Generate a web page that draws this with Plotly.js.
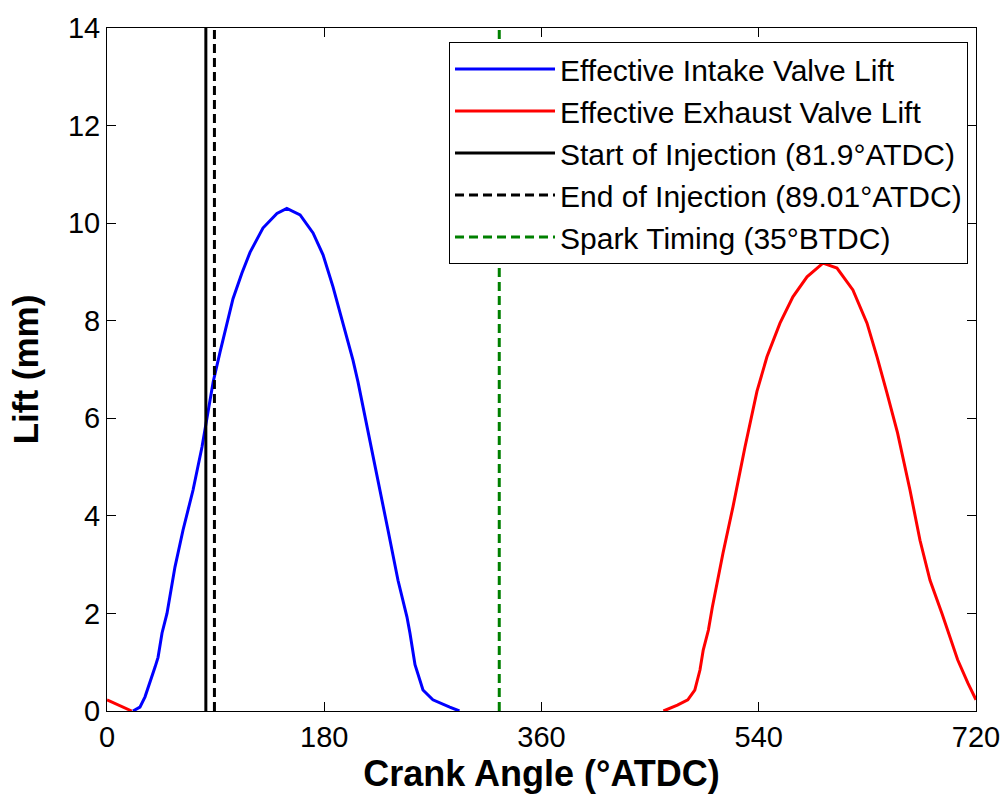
<!DOCTYPE html>
<html>
<head>
<meta charset="utf-8">
<script src="https://cdn.plot.ly/plotly-3.0.1.min.js"></script>
<style>html,body{margin:0;padding:0;background:#fff;}#chart{width:1005px;height:796px;}</style>
</head>
<body>
<div id="chart"></div>
<script>
// Effective intake valve lift (crank angle in deg ATDC, lift in mm)
const intakeAngle = [21.5, 27.3, 31.5, 35.6, 39.8, 42.3, 45.6, 49.7, 53, 56.3, 63, 71.3, 78.7, 88, 93.6, 99.4, 104.4, 111.8, 118.5, 129.2, 140.8, 149, 160, 170.7, 179, 187.2, 195.5, 203.8, 208, 217.9, 224.5, 232.8, 241.1, 245.2, 248.5, 251, 255.2, 261.8, 270, 284, 292];
const intakeLift  = [0, 0.08, 0.29, 0.57, 0.9, 1.1, 1.6, 2.0, 2.45, 2.95, 3.71, 4.53, 5.41, 6.75, 7.35, 7.95, 8.45, 8.98, 9.4, 9.9, 10.2, 10.3, 10.17, 9.8, 9.35, 8.7, 7.95, 7.19, 6.74, 5.55, 4.73, 3.71, 2.68, 2.27, 1.93, 1.6, 0.95, 0.43, 0.23, 0.08, 0];

// Effective exhaust valve lift (wraps around the cycle start)
const exhaustAngle = [0, 5, 10, 15, 20.5, null, 461, 472.6, 481.2, 487, 491.3, 494, 498.3, 501.5, 510.4, 518.6, 528.6, 538.5, 546.8, 557.6, 568.3, 580, 593.2, 604.8, 618, 629.7, 638, 643, 646.2, 655, 665.3, 673.6, 681.9, 691.8, 699, 704.8, 713.3, 720];
const exhaustLift  = [0.23, 0.17, 0.11, 0.05, 0, null, 0, 0.12, 0.23, 0.43, 0.84, 1.25, 1.66, 2.12, 3.24, 4.18, 5.41, 6.55, 7.26, 7.95, 8.49, 8.9, 9.18, 9.08, 8.63, 7.95, 7.26, 6.78, 6.52, 5.7, 4.53, 3.5, 2.68, 2.0, 1.45, 1.05, 0.57, 0.23];

// Event timings (deg ATDC)
const startOfInjection = 81.9;
const endOfInjection = 89.01;
const sparkTiming = 360 - 35;

const seriesNames = [
  'Effective Intake Valve Lift',
  'Effective Exhaust Valve Lift',
  'Start of Injection (81.9°ATDC)',
  'End of Injection (89.01°ATDC)',
  'Spark Timing (35°BTDC)'
];
const xTicks = [0, 180, 360, 540, 720];
const yTicks = [0, 2, 4, 6, 8, 10, 12, 14];
const yRange = [0, 14];

const FONT = 'Liberation Sans, Arial, Helvetica, sans-serif';

const traces = [
  {x: intakeAngle, y: intakeLift, mode: 'lines', name: seriesNames[0], line: {color: '#0000ff', width: 3}},
  {x: exhaustAngle, y: exhaustLift, mode: 'lines', name: seriesNames[1], connectgaps: false, line: {color: '#ff0000', width: 3}},
  {x: [startOfInjection, startOfInjection], y: yRange, mode: 'lines', name: seriesNames[2], line: {color: '#000000', width: 3}},
  {x: [endOfInjection, endOfInjection], y: yRange, mode: 'lines', name: seriesNames[3], line: {color: '#000000', width: 3, dash: '9px,5px'}},
  {x: [sparkTiming, sparkTiming], y: yRange, mode: 'lines', name: seriesNames[4], line: {color: '#008000', width: 3, dash: '9px,5px'}}
];

const axisCommon = {
  showgrid: false, zeroline: false, showline: true, linecolor: '#000', linewidth: 1,
  mirror: 'ticks', ticks: 'inside', ticklen: 9, tickwidth: 1, tickcolor: '#000',
  tickfont: {family: FONT, size: 29, color: '#000'}
};

const layout = {
  width: 1005, height: 796,
  margin: {l: 107, r: 29, t: 28, b: 85},
  paper_bgcolor: '#fff', plot_bgcolor: '#fff',
  font: {family: FONT, color: '#000'},
  showlegend: true,
  xaxis: Object.assign({}, axisCommon, {
    range: [0, 720], tickvals: xTicks, ticktext: xTicks.map(String),
    title: {text: 'Crank Angle (°ATDC)', font: {family: FONT, size: 36, weight: 'bold', color: '#000'}, standoff: 8}
  }),
  yaxis: Object.assign({}, axisCommon, {
    range: yRange, tickvals: yTicks, ticktext: yTicks.map(String),
    title: {text: 'Lift (mm)', font: {family: FONT, size: 35, weight: 'bold', color: '#000'}, standoff: 18}
  }),
  legend: {
    x: 0.9908, y: 0.9795, xanchor: 'right', yanchor: 'top',
    bgcolor: '#fff', bordercolor: '#000', borderwidth: 1,
    font: {family: FONT, size: 30, color: '#000'},
    itemwidth: 100, tracegroupgap: 0
  }
};

Plotly.newPlot('chart', traces, layout, {staticPlot: true, displayModeBar: false});
</script>
</body>
</html>
